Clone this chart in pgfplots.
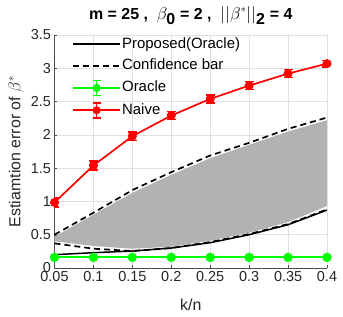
\documentclass[border=0pt]{standalone}
\usepackage{pgfplots}
\pgfplotsset{compat=1.18}
\usepackage{fontspec}
\setmainfont{Liberation Sans}
\definecolor{mred}{rgb}{1,0,0}
\definecolor{mgreen}{rgb}{0,1,0}
\begin{document}
\begin{tikzpicture}
\useasboundingbox (-54.5bp,-49bp) rectangle (288.5bp,268bp);
\begin{axis}[
  scale only axis, width=272.5bp, height=233bp,
  xmin=0.05, xmax=0.4, ymin=0, ymax=3.5,
  xtick={0.05,0.1,0.15,0.2,0.25,0.3,0.35,0.4},
  xticklabels={0.05,0.1,0.15,0.2,0.25,0.3,0.35,0.4},
  ytick={0,0.5,1,1.5,2,2.5,3,3.5},
  yticklabels={0,0.5,1,1.5,2,2.5,3,3.5},
  grid=major, grid style={black!12, line width=0.5pt},
  axis x line*=bottom, axis y line*=left,
  axis line style={black!70, line width=0.6pt},
  tick align=inside, major tick length=3bp, tick style={black!70},
  tick label style={font=\fontsize{14.5}{16}\selectfont, text=black!85},
  xlabel={k/n}, ylabel={Estiamtion error of $\beta^*$},
  label style={font=\fontsize{16}{18}\selectfont, text=black!85},
  xlabel style={at={(axis description cs:0.5,-0.159)}, anchor=center},
  ylabel style={at={(axis description cs:-0.141,0.5)}, anchor=center},
  title={\textbf{m = 25 ,\ \ $\beta_{\textbf{0}}$ = 2 ,\ \ $||\beta^*||_{\textbf{2}}$ = 4}},
  title style={font=\fontsize{16}{18}\selectfont, at={(axis description cs:0.5,1.043)}, anchor=base},
  legend style={at={(axis description cs:0.064,0.996)}, anchor=north west, draw=none, fill=none,
    font=\fontsize{15}{17}\selectfont, row sep=5.8bp, inner sep=0bp,
    nodes={inner sep=1bp, text height=11bp, text depth=3bp}},
  legend cell align=left,
]
\addplot[fill=gray!60, draw=none, forget plot] coordinates {(0.05,0.47) (0.1,0.80) (0.15,1.13) (0.2,1.40) (0.25,1.65) (0.3,1.85) (0.35,2.05) (0.4,2.22)
  (0.4,0.93) (0.35,0.69) (0.3,0.53) (0.25,0.41) (0.2,0.32) (0.15,0.29) (0.1,0.33) (0.05,0.40)} -- cycle;

\addplot[black, line width=1.5pt, forget plot]
  coordinates {(0.05,0.20) (0.1,0.23) (0.15,0.255) (0.2,0.30) (0.25,0.38) (0.3,0.50) (0.35,0.65) (0.4,0.87)};
\addplot[black, line width=1.7pt, dash pattern=on 6bp off 4bp, forget plot]
  coordinates {(0.05,0.50) (0.1,0.83) (0.15,1.17) (0.2,1.44) (0.25,1.69) (0.3,1.88) (0.35,2.09) (0.4,2.26)};
\addplot[black, line width=1.7pt, dash pattern=on 6bp off 4bp, forget plot]
  coordinates {(0.05,0.37) (0.1,0.29) (0.15,0.255) (0.2,0.30) (0.25,0.39) (0.3,0.51) (0.35,0.66) (0.4,0.88)};

\addplot[color=mgreen, draw=mgreen, line width=2.2pt, mark=*, mark size=4.2bp, mark options={fill=mgreen, draw=mgreen, line width=1pt}, forget plot,
  error bars/.cd, y dir=both, y explicit, error mark options={rotate=90, mark size=4.5bp, line width=1.2pt, draw=mgreen},
  error bar style={line width=1.2pt, draw=mgreen},
  ] coordinates {(0.05,0.16) +- (0,0.005) (0.1,0.16) +- (0,0.005) (0.15,0.16) +- (0,0.005) (0.2,0.16) +- (0,0.005) (0.25,0.16) +- (0,0.005) (0.3,0.16) +- (0,0.005) (0.35,0.16) +- (0,0.005) (0.4,0.16) +- (0,0.005)};
\addplot[color=mred, draw=mred, line width=1.7pt, mark=*, mark size=4bp, mark options={fill=mred, draw=mred, line width=1pt}, forget plot,
  error bars/.cd, y dir=both, y explicit, error mark options={rotate=90, mark size=4.5bp, line width=1.6pt, draw=mred},
  error bar style={line width=1.5pt, draw=mred},
  ] coordinates {(0.05,0.985) +- (0,0.065) (0.1,1.54) +- (0,0.065) (0.15,1.98) +- (0,0.065) (0.2,2.29) +- (0,0.06) (0.25,2.54) +- (0,0.06) (0.3,2.74) +- (0,0.06) (0.35,2.92) +- (0,0.06) (0.4,3.07) +- (0,0.05)};

\addlegendimage{legend image code/.code={\draw[black, line width=1.5pt] (0bp,0bp) -- (47bp,0bp);}}
\addlegendentry{Proposed(Oracle)}
\addlegendimage{legend image code/.code={\draw[black, line width=1.7pt, dash pattern=on 6bp off 4bp] (0bp,0bp) -- (47bp,0bp);}}
\addlegendentry{Confidence bar}
\addlegendimage{legend image code/.code={\draw[mgreen, line width=2pt] (0bp,0bp) -- (47bp,0bp);
    \draw[mgreen, line width=1.5pt] (23.5bp,-7.5bp) -- (23.5bp,7.5bp) (19.5bp,7.5bp) -- (27.5bp,7.5bp) (19.5bp,-7.5bp) -- (27.5bp,-7.5bp);
    \fill[mgreen] (23.5bp,0bp) circle (3.8bp);}}
\addlegendentry{Oracle}
\addlegendimage{legend image code/.code={\draw[mred, line width=2pt] (0bp,0bp) -- (47bp,0bp);
    \draw[mred, line width=1.5pt] (23.5bp,-7.5bp) -- (23.5bp,7.5bp) (19.5bp,7.5bp) -- (27.5bp,7.5bp) (19.5bp,-7.5bp) -- (27.5bp,-7.5bp);
    \fill[mred] (23.5bp,0bp) circle (3.8bp);}}
\addlegendentry{Naive}
\end{axis}
\end{tikzpicture}
\end{document}
